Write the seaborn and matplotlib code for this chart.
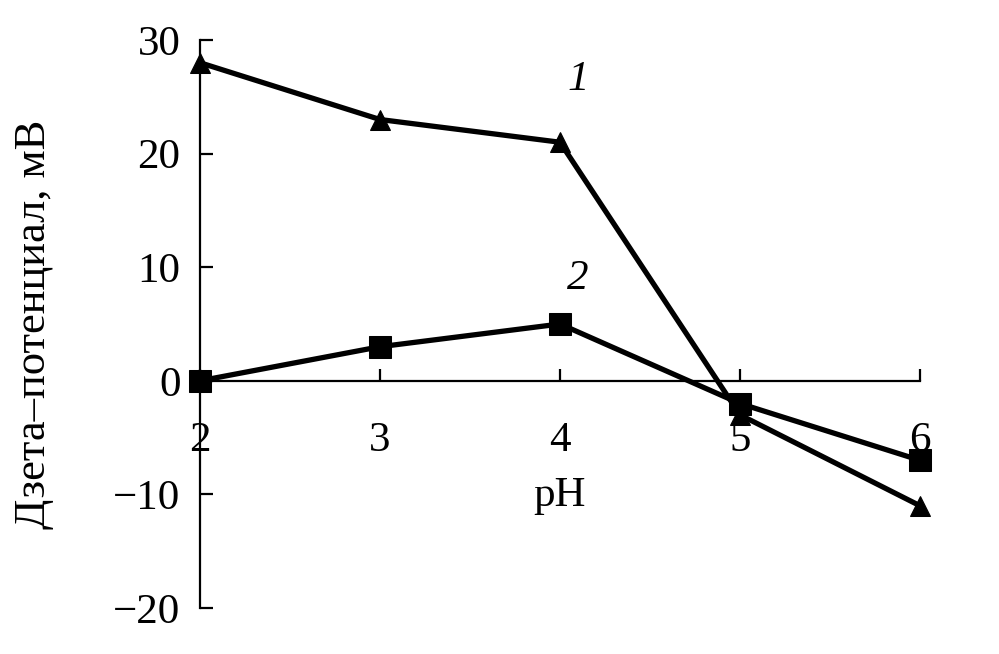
import matplotlib
matplotlib.use("Agg")
import matplotlib.pyplot as plt
import seaborn as sns
import pandas as pd

ph = [2, 3, 4, 5, 6]
zeta_1 = [28, 23, 21, -3, -11]
zeta_2 = [0, 3, 5, -2, -7]
xticks = [2, 3, 4, 5, 6]
yticks = [-20, -10, 0, 10, 20, 30]

sns.set_theme(style="white")
plt.rcParams['font.family'] = ['Liberation Serif', 'DejaVu Serif']
plt.rcParams['axes.unicode_minus'] = True

fig = plt.figure(figsize=(9.99, 6.54), dpi=100)
W, H = 999, 654
ax = fig.add_axes([200 / W, 1 - 608 / H, 720 / W, 568 / H])

df1 = pd.DataFrame({"pH": ph, "z": zeta_1})
df2 = pd.DataFrame({"pH": ph, "z": zeta_2})
sns.lineplot(data=df1, x="pH", y="z", ax=ax, color="black", linewidth=3.8,
             marker="^", markersize=15, markeredgecolor="black", clip_on=False)
sns.lineplot(data=df2, x="pH", y="z", ax=ax, color="black", linewidth=3.8,
             marker="s", markersize=16.5, markeredgecolor="black", clip_on=False)

ax.set_xlim(2, 6)
ax.set_ylim(-20, 30)
ax.spines['top'].set_visible(False)
ax.spines['right'].set_visible(False)
ax.spines['left'].set_position(('data', 2))
ax.spines['bottom'].set_position(('data', 0))
for s in ['left', 'bottom']:
    ax.spines[s].set_color('black')
    ax.spines[s].set_linewidth(1.6)

ax.set_xticks(xticks)
ax.set_yticks(yticks)
ax.set_yticklabels([str(v).replace('-', '\u2212') for v in yticks])
ax.tick_params(axis='both', direction='in', length=9, width=1.6, colors='black',
               labelsize=31, labelcolor='black')
ax.tick_params(axis='y', pad=14, left=True)
ax.tick_params(axis='x', pad=29, bottom=True)

ax.set_xlabel("pH", fontsize=31, color='black', labelpad=12)
ax.set_ylabel("Дзета–потенциал, мВ", fontsize=32, color='black')
ax.yaxis.set_label_coords(-146 / 720, 0.5)

ax.text(4.1, 26.5, "1", fontsize=31, style='italic', ha='center', va='center', color='black')
ax.text(4.1, 9.0, "2", fontsize=31, style='italic', ha='center', va='center', color='black')

ax.grid(False)
fig.savefig("out.png", dpi=100, facecolor='white')
